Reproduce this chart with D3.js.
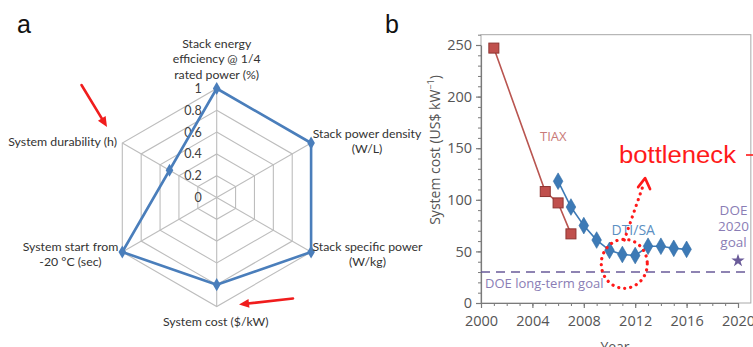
<!DOCTYPE html>
<html>
<head>
<meta charset="utf-8">
<script src="https://cdn.jsdelivr.net/npm/d3@7"></script>
<style>
  html, body { margin: 0; padding: 0; background: #fff; }
  svg { display: block; }
</style>
</head>
<body>
<svg id="chart" width="753" height="347"></svg>
<script>
// ---- Panel a: radar of normalised fuel-cell targets ----
const radarAxes = [
  ["Stack energy", "efficiency @ 1/4", "rated power (%)"],
  ["Stack power density", "(W/L)"],
  ["Stack specific power", "(W/kg)"],
  ["System cost ($/kW)"],
  ["System start from", "-20 °C (sec)"],
  ["System durability (h)"]
];
const radarValues = [1, 1, 1, 0.8, 1, 0.5];
const radarTicks = [0, 0.2, 0.4, 0.6, 0.8, 1];

// ---- Panel b: system cost history ----
const tiaxYears = [2001, 2005, 2006, 2007];
const tiaxCost = [247, 108, 97, 67];
const dtiYears = [2006, 2007, 2008, 2009, 2010, 2011, 2012, 2013, 2014, 2015, 2016];
const dtiCost = [118, 93, 75, 61, 51, 47, 46, 55, 55, 53, 52];
const doeLongTermGoal = 30;
const doe2020Year = 2020;
const doe2020Goal = 41;
const yearTicks = [2000, 2004, 2008, 2012, 2016, 2020];
const costTicks = [0, 50, 100, 150, 200, 250];

const svg = d3.select("#chart");

// ================= Panel a =================
const cx = 216.7, cy = 197.5, R = 109;
const rScale = d3.scaleLinear().domain([0, 1]).range([0, R]);
const nAx = radarAxes.length;
const angle = i => -Math.PI / 2 + i * 2 * Math.PI / nAx;
const pt = (i, v) => [cx + rScale(v) * Math.cos(angle(i)), cy + rScale(v) * Math.sin(angle(i))];

const gA = svg.append("g");
const gridColor = "#bdbdbd";

// concentric hexagons
gA.selectAll("path.ring")
  .data(radarTicks.filter(t => t > 0))
  .join("path")
  .attr("class", "ring")
  .attr("d", t => d3.line()(d3.range(nAx).map(i => pt(i, t))) + "Z")
  .attr("fill", "none")
  .attr("stroke", gridColor)
  .attr("stroke-width", 1.1);

// spokes
gA.selectAll("line.spoke")
  .data(d3.range(nAx))
  .join("line")
  .attr("class", "spoke")
  .attr("x1", cx).attr("y1", cy)
  .attr("x2", i => pt(i, 1)[0]).attr("y2", i => pt(i, 1)[1])
  .attr("stroke", gridColor)
  .attr("stroke-width", 1.1);

// tick labels along the top spoke
gA.selectAll("text.rtick")
  .data(radarTicks)
  .join("text")
  .attr("class", "rtick")
  .attr("x", cx - 15)
  .attr("y", t => cy - rScale(t) + 4.5)
  .attr("text-anchor", "end")
  .attr("font-family", "Lato, 'Open Sans', sans-serif")
  .attr("font-size", 12.5)
  .attr("fill", "#404040")
  .text(t => d3.format("~g")(t));

// data polygon
const radarBlue = "#4a7ebb";
gA.append("path")
  .attr("d", d3.line()(radarValues.map((v, i) => pt(i, v))) + "Z")
  .attr("fill", "none")
  .attr("stroke", radarBlue)
  .attr("stroke-width", 2.6)
  .attr("stroke-linejoin", "round");

gA.selectAll("path.rmark")
  .data(radarValues)
  .join("path")
  .attr("class", "rmark")
  .attr("transform", (v, i) => `translate(${pt(i, v)})`)
  .attr("d", d3.symbol(d3.symbolDiamond, 50))
  .attr("fill", radarBlue);

// axis labels
const labelFont = "Lato, 'Open Sans', sans-serif";
const labelLayout = [
  { x: cx, y: 47.5, anchor: "middle" },
  { x: 367, y: 137.5, anchor: "middle" },
  { x: 367.5, y: 250.5, anchor: "middle" },
  { x: cx - 1, y: 325.5, anchor: "middle" },
  { x: 70.5, y: 250.5, anchor: "middle" },
  { x: 117, y: 146, anchor: "end" }
];
radarAxes.forEach((lines, i) => {
  const L = labelLayout[i];
  const t = gA.append("text")
    .attr("x", L.x).attr("y", L.y)
    .attr("text-anchor", L.anchor)
    .attr("font-family", labelFont)
    .attr("font-size", 12.3)
    .attr("fill", "#333");
  lines.forEach((s, k) => {
    t.append("tspan").attr("x", L.x).attr("dy", k === 0 ? 0 : 15.7).text(s);
  });
});

// red pointer arrows
const red = "#f01d1d";
function arrow(g, x1, y1, x2, y2, head, width) {
  const a = Math.atan2(y2 - y1, x2 - x1);
  g.append("line")
    .attr("x1", x1).attr("y1", y1)
    .attr("x2", x2 - Math.cos(a) * head * 0.6).attr("y2", y2 - Math.sin(a) * head * 0.6)
    .attr("stroke", red).attr("stroke-width", width).attr("stroke-linecap", "round");
  const p = [
    [x2, y2],
    [x2 - head * Math.cos(a - 0.42), y2 - head * Math.sin(a - 0.42)],
    [x2 - head * Math.cos(a + 0.42), y2 - head * Math.sin(a + 0.42)]
  ];
  g.append("path").attr("d", d3.line()(p) + "Z").attr("fill", red);
}
arrow(gA, 81.5, 85, 107, 127, 11, 2.6);
arrow(gA, 293, 298.5, 239, 304.5, 11, 2.6);

// panel letter
svg.append("text")
  .attr("x", 17).attr("y", 33)
  .attr("font-family", "Arial, 'Liberation Sans', sans-serif")
  .attr("font-size", 25)
  .attr("fill", "#111")
  .text("a");

// ================= Panel b =================
const x = d3.scaleLinear().domain([2000, 2020]).range([481, 738]);
const y = d3.scaleLinear().domain([0, 250]).range([303, 45]);
const gB = svg.append("g");
const axisGrey = "#7a7a7a";
const bFont = "'Open Sans', 'Noto Sans', sans-serif";

// plot frame
gB.append("rect")
  .attr("x", x(2000)).attr("y", y(260))
  .attr("width", x(2021) - x(2000)).attr("height", y(0) - y(260))
  .attr("fill", "none").attr("stroke", "#a8a8a8").attr("stroke-width", 1);

// minor ticks
gB.append("g")
  .attr("transform", `translate(${x(2000)},0)`)
  .call(d3.axisLeft(y).tickValues(d3.range(0, 261, 10)).tickSize(3).tickFormat(""))
  .call(g => g.select(".domain").remove())
  .call(g => g.selectAll("line").attr("stroke", axisGrey));
gB.append("g")
  .attr("transform", `translate(0,${y(0)})`)
  .call(d3.axisBottom(x).tickValues(d3.range(2000, 2021, 1)).tickSize(3).tickFormat(""))
  .call(g => g.select(".domain").remove())
  .call(g => g.selectAll("line").attr("stroke", axisGrey));

// major axes
gB.append("g")
  .attr("transform", `translate(${x(2000)},0)`)
  .call(d3.axisLeft(y).tickValues(costTicks).tickSize(5).tickPadding(4).tickSizeOuter(0))
  .call(g => g.select(".domain").attr("stroke", axisGrey).attr("stroke-width", 1.2))
  .call(g => g.selectAll("line").attr("stroke", axisGrey).attr("stroke-width", 1.2))
  .call(g => g.selectAll("text").attr("font-family", bFont).attr("font-size", 14.5).attr("fill", "#555"));
gB.append("g")
  .attr("transform", `translate(0,${y(0)})`)
  .call(d3.axisBottom(x).tickValues(yearTicks).tickFormat(d3.format("d")).tickSize(5).tickSizeOuter(0))
  .call(g => g.select(".domain").attr("stroke", axisGrey).attr("stroke-width", 1.2))
  .call(g => g.selectAll("line").attr("stroke", axisGrey).attr("stroke-width", 1.2))
  .call(g => g.selectAll("text").attr("y", 23).attr("dy", 0)
    .attr("font-family", bFont).attr("font-size", 14.5).attr("fill", "#555"));

// axis titles
const yTitle = gB.append("text")
  .attr("transform", "translate(440,150) rotate(-90)")
  .attr("text-anchor", "middle")
  .attr("font-family", bFont).attr("font-size", 14).attr("fill", "#555");
yTitle.append("tspan").text("System cost (US$ kW");
yTitle.append("tspan").attr("font-size", 9).attr("dy", -6).text("−1");
yTitle.append("tspan").attr("dy", 6).text(")");

gB.append("text")
  .attr("x", 615).attr("y", 352)
  .attr("text-anchor", "middle")
  .attr("font-family", bFont).attr("font-size", 14).attr("fill", "#555")
  .text("Year");

// DOE long-term goal
const purple = "#6a5b99";
gB.append("line")
  .attr("x1", x(2000)).attr("x2", x(2021))
  .attr("y1", y(doeLongTermGoal)).attr("y2", y(doeLongTermGoal))
  .attr("stroke", purple).attr("stroke-width", 1.6)
  .attr("stroke-dasharray", "9,6");
gB.append("text")
  .attr("x", 485).attr("y", 288)
  .attr("font-family", bFont).attr("font-size", 13).attr("fill", "#8a7db5")
  .text("DOE long-term goal");

// TIAX series
const tiaxRed = "#b95550";
const tiax = tiaxYears.map((yr, i) => [yr, tiaxCost[i]]);
gB.append("path")
  .attr("d", d3.line().x(d => x(d[0])).y(d => y(d[1]))(tiax))
  .attr("fill", "none").attr("stroke", tiaxRed).attr("stroke-width", 1.6);
gB.selectAll("rect.tiax")
  .data(tiax)
  .join("rect")
  .attr("class", "tiax")
  .attr("x", d => x(d[0]) - 5).attr("y", d => y(d[1]) - 5)
  .attr("width", 10).attr("height", 10)
  .attr("fill", "#c0504d").attr("stroke", "#8e3431").attr("stroke-width", 1);
gB.append("text")
  .attr("x", 540).attr("y", 141)
  .attr("font-family", bFont).attr("font-size", 13).attr("fill", "#c97a78")
  .text("TIAX");

// DTI/SA series
const dtiBlue = "#3d7ab6";
const dti = dtiYears.map((yr, i) => [yr, dtiCost[i]]);
gB.append("path")
  .attr("d", d3.line().x(d => x(d[0])).y(d => y(d[1]))(dti))
  .attr("fill", "none").attr("stroke", dtiBlue).attr("stroke-width", 1.6);
gB.selectAll("path.dti")
  .data(dti)
  .join("path")
  .attr("class", "dti")
  .attr("transform", d => `translate(${x(d[0])},${y(d[1])})`)
  .attr("d", d3.symbol(d3.symbolDiamond, 80))
  .attr("fill", dtiBlue).attr("stroke", "#2d6aa3").attr("stroke-width", 0.6);
gB.append("text")
  .attr("x", 611.5).attr("y", 234.5)
  .attr("font-family", bFont).attr("font-size", 14).attr("fill", "#5b8fc2")
  .text("DTI/SA");

// DOE 2020 goal
gB.append("path")
  .attr("transform", `translate(${x(doe2020Year)},${y(doe2020Goal)})`)
  .attr("d", d3.symbol(d3.symbolStar, 55))
  .attr("fill", purple);
const goal = gB.append("text")
  .attr("x", 733.5).attr("y", 215)
  .attr("text-anchor", "middle")
  .attr("font-family", bFont).attr("font-size", 13.5).attr("fill", "#8a7db5");
["DOE", "2020", "goal"].forEach((s, k) => {
  goal.append("tspan").attr("x", 733.5).attr("dy", k === 0 ? 0 : 16).text(s);
});

// bottleneck annotation
const hot = "#ff1a1a";
gB.append("text")
  .attr("x", 619).attr("y", 163)
  .attr("font-family", "Arial, 'Liberation Sans', sans-serif")
  .attr("font-size", 23.5)
  .attr("textLength", 117).attr("lengthAdjust", "spacingAndGlyphs")
  .attr("fill", hot)
  .text("bottleneck");
gB.append("line")
  .attr("x1", 746).attr("x2", 753).attr("y1", 155).attr("y2", 155)
  .attr("stroke", hot).attr("stroke-width", 1.6);

const dotted = { stroke: hot, "stroke-width": 3.2, "stroke-dasharray": "0.1,6", "stroke-linecap": "round", fill: "none" };
const ell = gB.append("ellipse")
  .attr("cx", x(2011.15)).attr("cy", y(38))
  .attr("rx", 23).attr("ry", 24.5);
Object.entries(dotted).forEach(([k, v]) => ell.attr(k, v));
const tipX = x(2012.77), tipY = y(121);
const stem = gB.append("line")
  .attr("x1", x(2011.15)).attr("y1", y(61))
  .attr("x2", tipX - 1.5).attr("y2", tipY + 6);
Object.entries(dotted).forEach(([k, v]) => stem.attr(k, v));
gB.append("path")
  .attr("d", d3.line()([[tipX - 7, tipY + 9], [tipX, tipY], [tipX + 5, tipY + 11]]) + "")
  .attr("fill", "none").attr("stroke", hot).attr("stroke-width", 2.6)
  .attr("stroke-linejoin", "round").attr("stroke-linecap", "round");

// panel letter
svg.append("text")
  .attr("x", 385).attr("y", 33)
  .attr("font-family", "Arial, 'Liberation Sans', sans-serif")
  .attr("font-size", 25)
  .attr("fill", "#111")
  .text("b");
</script>
</body>
</html>
